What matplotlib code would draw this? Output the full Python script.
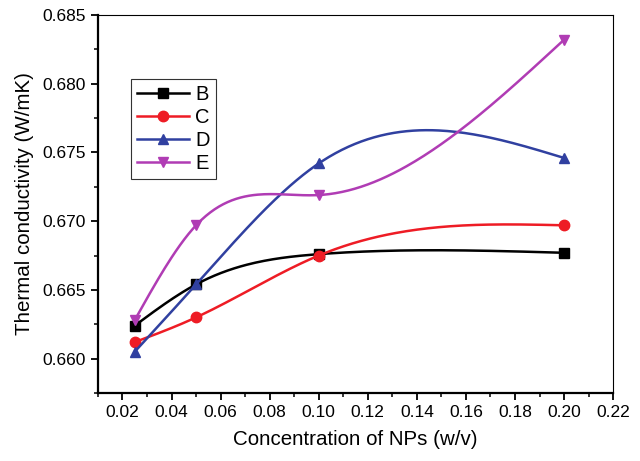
import numpy as np
import matplotlib
matplotlib.use("Agg")
import matplotlib.pyplot as plt
from matplotlib.ticker import MultipleLocator

plt.rcParams['font.family'] = ['Liberation Sans', 'DejaVu Sans']

# data
conc = [0.025, 0.05, 0.10, 0.20]
seriesB = [0.6624, 0.6654, 0.6676, 0.6677]
seriesC = [0.6612, 0.6630, 0.6675, 0.6697]
seriesD = [0.6605, 0.6654, 0.6742, 0.6746]
seriesE = [0.6628, 0.6697, 0.6719, 0.6832]
names = ['B', 'C', 'D', 'E']


# natural cubic spline, only used to draw the smooth connecting line
def smoothLine(x, y, n=200):
    x = np.asarray(x, float)
    y = np.asarray(y, float)
    k = len(x)
    h = np.diff(x)
    A = np.zeros((k, k))
    r = np.zeros(k)
    A[0, 0] = 1
    A[-1, -1] = 1
    for i in range(1, k - 1):
        A[i, i - 1] = h[i - 1]
        A[i, i] = 2 * (h[i - 1] + h[i])
        A[i, i + 1] = h[i]
        r[i] = 6 * ((y[i + 1] - y[i]) / h[i] - (y[i] - y[i - 1]) / h[i - 1])
    M = np.linalg.solve(A, r)
    xs = np.linspace(x[0], x[-1], n)
    ys = np.empty_like(xs)
    for j, xv in enumerate(xs):
        i = min(np.searchsorted(x, xv, side='right') - 1, k - 2)
        t1 = x[i + 1] - xv
        t0 = xv - x[i]
        ys[j] = (M[i] * t1 ** 3 + M[i + 1] * t0 ** 3) / (6 * h[i]) \
            + (y[i] / h[i] - M[i] * h[i] / 6) * t1 \
            + (y[i + 1] / h[i] - M[i + 1] * h[i] / 6) * t0
    return xs, ys


fig = plt.figure(figsize=(6.4, 4.61), dpi=100)
ax = fig.add_axes([0.153, 0.1475, 0.805, 0.82])

styles = [('black', 's'), ('#ee1c25', 'o'), ('#3040a0', '^'), ('#b03cb4', 'v')]
for vals, name, (col, mk) in zip([seriesB, seriesC, seriesD, seriesE], names, styles):
    xs, ys = smoothLine(conc, vals)
    ax.plot(xs, ys, color=col, lw=1.8)
    ax.plot(conc, vals, linestyle='none', marker=mk, color=col, ms=7.5)
    ax.plot([], [], color=col, lw=1.8, marker=mk, ms=7.5, label=name)

ax.set_xlim(0.01, 0.22)
ax.set_ylim(0.6575, 0.685)
ax.xaxis.set_minor_locator(MultipleLocator(0.01))
ax.yaxis.set_minor_locator(MultipleLocator(0.0025))
ax.set_xticks(np.arange(0.02, 0.221, 0.02))
ax.set_xticklabels(['%.2f' % v for v in np.arange(0.02, 0.221, 0.02)])
ax.set_yticks([0.660, 0.665, 0.670, 0.675, 0.680, 0.685])
ax.set_yticklabels(['0.660', '0.665', '0.670', '0.675', '0.680', '0.685'])

ax.tick_params(which='both', direction='out', top=False, right=False, labelsize=12.5)
ax.tick_params(which='major', length=5, width=1.3)
ax.tick_params(which='minor', length=3, width=1.1)
ax.spines['left'].set_linewidth(1.6)
ax.spines['bottom'].set_linewidth(1.6)
ax.spines['top'].set_linewidth(0.8)
ax.spines['right'].set_linewidth(0.8)

ax.set_xlabel('Concentration of NPs (w/v)', fontsize=14.8, labelpad=7)
ax.set_ylabel('Thermal conductivity (W/mK)', fontsize=14.8, labelpad=6)

leg = ax.legend(loc='upper left', bbox_to_anchor=(0.064, 0.83), fontsize=14.5,
                fancybox=False, edgecolor='#333333', handlelength=2.6,
                borderpad=0.3, labelspacing=0.2, handletextpad=0.3, framealpha=1,
                borderaxespad=0)
leg.get_frame().set_linewidth(0.8)

fig.savefig('out.png', dpi=100)
